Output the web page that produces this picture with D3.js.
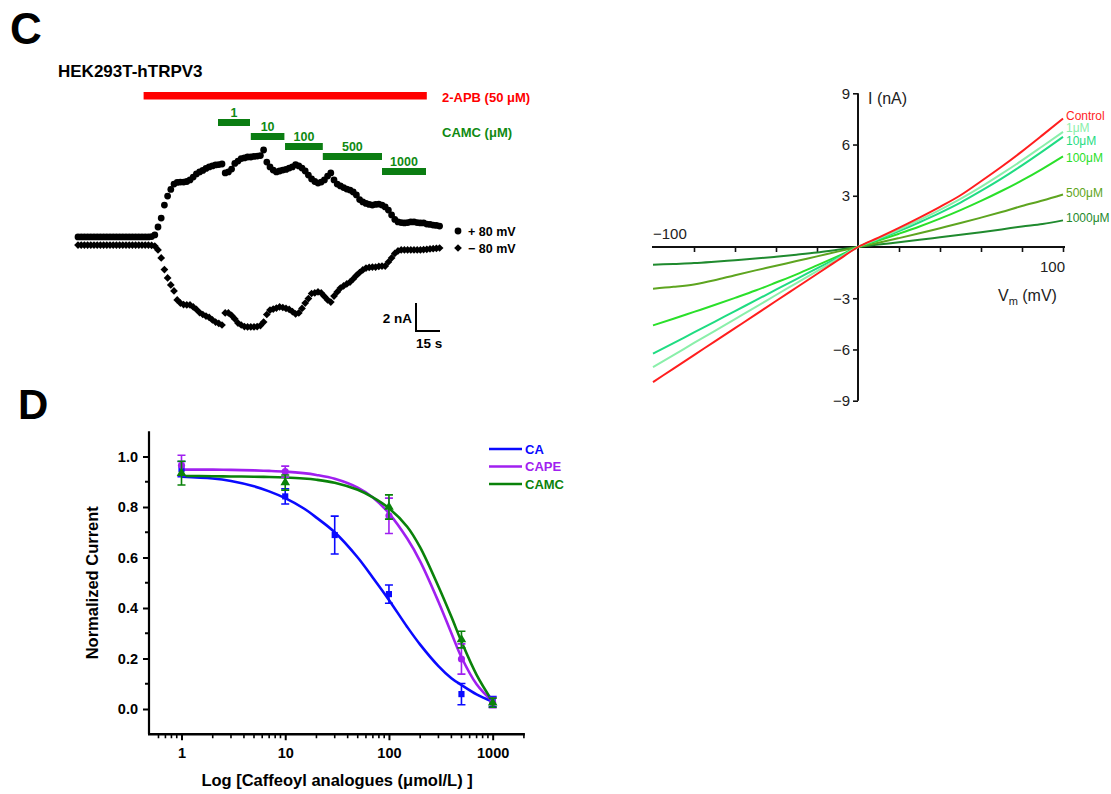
<!DOCTYPE html>
<html><head><meta charset="utf-8">
<script src="https://cdn.jsdelivr.net/npm/d3@7"></script>
<style>
body{margin:0;background:#fff}
svg{display:block}
text{font-family:"Liberation Sans",Arial,Helvetica,sans-serif}
</style>
</head><body>
<svg id="chart" width="1111" height="794"></svg>
<script>
// ---------------- DATA ----------------
// Panel C: time course (sample every 2 s), current in nA
const sampleInterval = 2;
const plus80 = [0.29,0.29,0.29,0.29,0.29,0.29,0.29,0.29,0.29,0.29,0.29,0.29,0.29,0.29,0.29,0.29,0.29,0.29,0.29,0.29,0.29,0.29,0.29,
 0.32,0.43,1.00,1.64,2.57,3.21,3.68,4.07,4.18,4.21,4.21,4.25,4.36,4.57,4.79,4.93,5.04,5.18,5.29,5.36,5.43,5.46,5.50,
 4.86,4.93,5.14,5.54,5.71,5.89,5.93,6.00,6.00,6.04,6.07,6.10,6.50,5.64,5.29,5.07,4.93,5.00,5.07,5.11,5.21,5.29,5.46,
 5.36,5.21,5.00,4.71,4.43,4.25,4.14,4.21,4.36,4.64,4.86,4.36,4.07,3.93,3.82,3.71,3.64,3.50,3.29,2.96,2.79,2.68,2.61,
 2.57,2.61,2.64,2.57,2.43,2.21,1.86,1.54,1.36,1.32,1.29,1.32,1.36,1.36,1.32,1.29,1.29,1.21,1.18,1.14,1.11,1.07];
const minus80 = [-0.29,-0.29,-0.29,-0.29,-0.29,-0.29,-0.29,-0.29,-0.29,-0.29,-0.29,-0.29,-0.29,-0.29,-0.29,-0.29,-0.29,-0.29,-0.29,-0.29,-0.29,-0.29,-0.29,
 -0.31,-0.36,-0.64,-1.21,-2.04,-2.64,-3.14,-3.57,-4.21,-4.43,-4.54,-4.57,-4.57,-4.71,-4.89,-5.11,-5.25,-5.36,-5.46,-5.64,-5.79,-5.89,-6.00,
 -5.14,-5.14,-5.32,-5.57,-5.86,-6.00,-6.11,-6.14,-6.14,-6.14,-6.11,-6.04,-5.79,-5.25,-4.93,-4.86,-4.79,-4.71,-4.75,-4.82,-4.89,-5.04,-5.21,
 -5.14,-4.82,-4.43,-4.11,-3.75,-3.71,-3.64,-3.71,-3.96,-4.21,-4.36,-3.93,-3.64,-3.36,-3.21,-3.07,-2.93,-2.71,-2.46,-2.25,-2.07,-1.93,-1.89,
 -1.86,-1.86,-1.82,-1.79,-1.79,-1.50,-1.21,-0.89,-0.71,-0.64,-0.64,-0.64,-0.64,-0.64,-0.64,-0.64,-0.61,-0.59,-0.57,-0.55,-0.52,-0.50];
const apbWindow = [41, 218];          // s
const camcLabels = ["1","10","100","500","1000"];
const camcStart = [87.5,108,129.4,153,190];
const camcEnd   = [107.5,129,153,190,217.5];

// Panel C right: I-V curves
const ivVoltages = [-100,-90,-80,-70,-60,-50,-40,-30,-20,-10,0,10,20,30,40,50,60,70,80,90,100];
const ivNames = ["Control","1μM","10μM","100μM","500μM","1000μM"];
const ivControl = [-7.91,-7.12,-6.33,-5.54,-4.75,-3.96,-3.16,-2.37,-1.58,-0.79,0,0.55,1.12,1.72,2.35,3.03,3.85,4.70,5.60,6.55,7.52];
const iv1    = [-7.03,-6.33,-5.62,-4.92,-4.22,-3.52,-2.81,-2.11,-1.41,-0.70,0,0.50,1.02,1.58,2.18,2.82,3.52,4.28,5.07,5.90,6.74];
const iv10   = [-6.25,-5.63,-5.00,-4.38,-3.75,-3.13,-2.50,-1.88,-1.25,-0.63,0,0.45,0.93,1.45,2.00,2.60,3.28,4.00,4.78,5.60,6.45];
const iv100  = [-4.59,-4.20,-3.80,-3.40,-2.98,-2.55,-2.08,-1.60,-1.08,-0.55,0,0.38,0.78,1.20,1.66,2.16,2.70,3.28,3.90,4.58,5.31];
const iv500  = [-2.44,-2.33,-2.19,-1.95,-1.65,-1.37,-1.10,-0.82,-0.55,-0.27,0,0.25,0.52,0.80,1.10,1.40,1.72,2.05,2.40,2.72,3.07];
const iv1000 = [-1.04,-0.99,-0.94,-0.86,-0.77,-0.68,-0.57,-0.45,-0.32,-0.16,0,0.14,0.28,0.42,0.57,0.72,0.87,1.03,1.20,1.35,1.56];
const ivYTicks = [-9,-6,-3,3,6,9];
const ivXTicks = [-80,-60,-40,-20,20,40,60,80,100];

// Panel D: concentration-response
const doseNames = ["CA","CAPE","CAMC"];
const caConc = [1,10,30,100,500,1000];
const caMean = [0.95,0.842,0.689,0.455,0.059,0.029];
const caSem  = [0.03,0.03,0.075,0.036,0.042,0.02];
const capeConc = [1,10,100,500,1000];
const capeMean = [0.965,0.94,0.765,0.198,0.025];
const capeSem  = [0.04,0.022,0.07,0.06,0.02];
const camcConc = [1,10,100,500,1000];
const camcMean = [0.934,0.897,0.80,0.275,0.025];
const camcSem  = [0.047,0.03,0.048,0.033,0.018];
const fitConc = [1,2,3,5,7,10,15,20,30,50,70,100,150,200,300,400,500,700,1000];
const caFit   = [0.920,0.913,0.903,0.882,0.862,0.835,0.795,0.758,0.700,0.600,0.520,0.432,0.325,0.255,0.170,0.122,0.095,0.058,0.029];
const capeFit = [0.948,0.948,0.947,0.945,0.943,0.940,0.934,0.927,0.912,0.877,0.838,0.775,0.675,0.585,0.425,0.300,0.205,0.098,0.029];
const camcFit = [0.923,0.922,0.921,0.920,0.919,0.917,0.913,0.908,0.896,0.868,0.838,0.795,0.722,0.640,0.485,0.365,0.267,0.135,0.029];
const doseYTicks = [0,0.2,0.4,0.6,0.8,1.0];
const doseYMinor = [0.1,0.3,0.5,0.7,0.9];
const doseXTicks = [1,10,100,1000];
const doseXMinor = [0.6,0.7,0.8,0.9,2,3,4,5,6,7,8,9,20,30,40,50,60,70,80,90,200,300,400,500,600,700,800,900,2000];

// ---------------- DRAW ----------------
const svg = d3.select("#chart");
const BLACK = "#000";

// Panel labels
svg.append("text").attr("x",10).attr("y",44).attr("font-size",44).attr("font-weight","bold").text("C");
svg.append("text").attr("x",18).attr("y",419).attr("font-size",42).attr("font-weight","bold").text("D");

// ===== Panel C time course =====
const tx = d3.scaleLinear().domain([0,100]).range([78,238]);   // 1.6 px/s
const ty = d3.scaleLinear().domain([0,2]).range([241,213]);    // 14 px/nA
const gC = svg.append("g");
gC.append("text").attr("x",58).attr("y",77).attr("font-size",17).attr("font-weight","bold").text("HEK293T-hTRPV3");

// 2-APB bar
gC.append("rect").attr("x",tx(apbWindow[0])).attr("y",92).attr("width",tx(apbWindow[1])-tx(apbWindow[0])).attr("height",7.5).attr("fill","#ff0000");
gC.append("text").attr("x",442).attr("y",101.5).attr("font-size",13).attr("font-weight","bold").attr("fill","#ff0000").text("2-APB (50 μM)");

// CAMC bars
const barTops = [119,133,143,153,168];
camcLabels.forEach((lab,i)=>{
  const x0 = tx(camcStart[i]), x1 = tx(camcEnd[i]);
  gC.append("rect").attr("x",x0).attr("y",barTops[i]).attr("width",x1-x0).attr("height",7).attr("fill","#0b7d12");
  gC.append("text").attr("x",(x0+x1)/2).attr("y",barTops[i]-2).attr("text-anchor","middle")
    .attr("font-size",12.5).attr("font-weight","bold").attr("fill","#0f8a12").text(lab);
});
gC.append("text").attr("x",442).attr("y",137).attr("font-size",13).attr("font-weight","bold").attr("fill","#0f8a12").text("CAMC (μM)");

// dots
const circ = d3.symbol().type(d3.symbolCircle).size(36);
const dia = d3.symbol().type(d3.symbolSquare).size(30);
gC.selectAll(".p80").data(plus80).join("path").attr("class","p80")
  .attr("d",circ).attr("transform",(d,i)=>`translate(${tx(i*sampleInterval)},${ty(d)})`).attr("fill",BLACK);
gC.selectAll(".m80").data(minus80).join("path").attr("class","m80")
  .attr("d",dia).attr("transform",(d,i)=>`translate(${tx(i*sampleInterval)},${ty(d)}) rotate(45)`).attr("fill",BLACK);

// legend
gC.append("path").attr("d",circ).attr("transform","translate(458,231)").attr("fill",BLACK);
gC.append("path").attr("d",dia).attr("transform","translate(458,248) rotate(45)").attr("fill",BLACK);
gC.append("text").attr("x",468).attr("y",235.5).attr("font-size",12.5).attr("font-weight","bold").text("+ 80 mV");
gC.append("text").attr("x",468).attr("y",252.5).attr("font-size",12.5).attr("font-weight","bold").text("− 80 mV");

// scale bar 2 nA / 15 s
const sbx = 416, sby = 331;
const sbH = ty(0)-ty(2), sbW = tx(15)-tx(0);
gC.append("path").attr("d",`M${sbx},${sby-sbH}V${sby}H${sbx+sbW}`).attr("fill","none").attr("stroke",BLACK).attr("stroke-width",2);
gC.append("text").attr("x",sbx-4).attr("y",323).attr("text-anchor","end").attr("font-size",13.5).attr("font-weight","bold").text("2 nA");
gC.append("text").attr("x",sbx).attr("y",348).attr("font-size",13.5).attr("font-weight","bold").text("15 s");

// ===== Panel C I-V =====
const vx = d3.scaleLinear().domain([-100,100]).range([653,1063]);
const iy = d3.scaleLinear().domain([-9,9]).range([400.7,93.3]);
const gIV = svg.append("g");
const ivAxisColor = "#111";
// x axis
const xAx = gIV.append("g").attr("transform",`translate(0,${iy(0)})`)
  .call(d3.axisBottom(vx).tickValues(ivXTicks).tickSize(5).tickFormat(""));
xAx.select(".domain").attr("d",`M${vx(-100)-1},0H${vx(100)+2}`).attr("stroke",ivAxisColor).attr("stroke-width",2);
xAx.selectAll(".tick line").attr("stroke",ivAxisColor).attr("stroke-width",1.6);
// y axis
const yAx = gIV.append("g").attr("transform",`translate(${vx(0)},0)`)
  .call(d3.axisLeft(iy).tickValues(ivYTicks).tickSize(5).tickPadding(3).tickFormat(d=>d<0?"−"+Math.abs(d):d));
yAx.select(".domain").attr("d",`M0,${iy(9)}V${iy(-9)}`).attr("stroke",ivAxisColor).attr("stroke-width",2);
yAx.selectAll(".tick line").attr("stroke",ivAxisColor).attr("stroke-width",1.6);
yAx.selectAll(".tick text").attr("font-size",15).attr("fill","#222").attr("font-family","Liberation Sans, Arial, sans-serif");
gIV.append("text").attr("x",vx(-100)).attr("y",iy(0)-8).attr("font-size",15).attr("fill","#222").text("−100");
gIV.append("text").attr("x",vx(100)+2).attr("y",iy(0)+25).attr("text-anchor","end").attr("font-size",15).attr("fill","#222").text("100");
gIV.append("text").attr("x",868).attr("y",104).attr("font-size",16).attr("fill","#222").text("I (nA)");
const vl = gIV.append("text").attr("x",998).attr("y",301).attr("font-size",16).attr("fill","#222");
vl.append("tspan").text("V");
vl.append("tspan").attr("font-size",11).attr("dy",4).text("m");
vl.append("tspan").attr("dy",-4).text(" (mV)");

const ivData = [ivControl, iv1, iv10, iv100, iv500, iv1000];
const ivColors = ["#ff1e1e","#8aefaa","#1fdc82","#2ae02a","#5ea520","#1f8a2e"];
const ivLabelDy = [-2.5,-3.5,4.5,1.5,-2,-2];
const ivLine = d3.line().x((d,i)=>vx(ivVoltages[i])).y(d=>iy(d)).curve(d3.curveMonotoneX);
for (let k = ivData.length-1; k >= 0; k--) {
  gIV.append("path").attr("d",ivLine(ivData[k])).attr("fill","none").attr("stroke",ivColors[k]).attr("stroke-width",2);
}
ivNames.forEach((n,k)=>{
  const last = ivData[k][ivData[k].length-1];
  gIV.append("text").attr("x",vx(100)+3).attr("y",iy(last)+ivLabelDy[k]+4).attr("font-size",12)
    .attr("fill",ivColors[k]).text(n);
});

// ===== Panel D =====
const cx = d3.scaleLog().domain([0.5,2000]).range([150.27,523.9]);
const ny = d3.scaleLinear().domain([-0.1,1.1]).range([734.25,431.25]);
const gD = svg.append("g");
const axX = 149;
// y axis
const dy = gD.append("g").attr("transform",`translate(${axX},0)`)
  .call(d3.axisLeft(ny).tickValues(doseYTicks).tickSize(6).tickPadding(5).tickFormat(d3.format(".1f")));
dy.select(".domain").attr("d",`M0,${ny(1.1)}V${ny(-0.1)}`).attr("stroke",BLACK).attr("stroke-width",2.2);
dy.selectAll(".tick line").attr("stroke",BLACK).attr("stroke-width",2);
dy.selectAll(".tick text").attr("font-size",14.5).attr("font-weight","bold").attr("fill",BLACK).attr("font-family","Liberation Sans, Arial, sans-serif");
dy.selectAll(".minor").data(doseYMinor).join("line").attr("class","minor")
  .attr("x1",0).attr("x2",-4).attr("y1",d=>ny(d)).attr("y2",d=>ny(d)).attr("stroke",BLACK).attr("stroke-width",2);
// x axis
const dxA = gD.append("g").attr("transform",`translate(0,${ny(-0.1)})`)
  .call(d3.axisBottom(cx).tickValues(doseXTicks).tickSize(6).tickPadding(7).tickFormat(d3.format("d")));
dxA.select(".domain").attr("d",`M${axX-1},0H${cx(2000)+1}`).attr("stroke",BLACK).attr("stroke-width",2.4);
dxA.selectAll(".tick line").attr("stroke",BLACK).attr("stroke-width",2);
dxA.selectAll(".tick text").attr("font-size",14.5).attr("font-weight","bold").attr("fill",BLACK).attr("font-family","Liberation Sans, Arial, sans-serif");
dxA.selectAll(".minor").data(doseXMinor).join("line").attr("class","minor")
  .attr("x1",d=>cx(d)).attr("x2",d=>cx(d)).attr("y1",0).attr("y2",4).attr("stroke",BLACK).attr("stroke-width",1.6);

gD.append("text").attr("transform",`translate(98,${(ny(1.1)+ny(-0.1))/2}) rotate(-90)`).attr("text-anchor","middle")
  .attr("font-size",16.5).attr("font-weight","bold").text("Normalized Current");
gD.append("text").attr("x",(cx(0.5)+cx(2000))/2).attr("y",786).attr("text-anchor","middle")
  .attr("font-size",16.5).attr("font-weight","bold").text("Log [Caffeoyl analogues (μmol/L) ]");

const doseColors = ["#0a0aff","#a020f0","#0a820a"];
const doseSets = [
  {conc:caConc, mean:caMean, sem:caSem, fit:caFit, sym:d3.symbolSquare, size:38},
  {conc:capeConc, mean:capeMean, sem:capeSem, fit:capeFit, sym:d3.symbolCircle, size:40},
  {conc:camcConc, mean:camcMean, sem:camcSem, fit:camcFit, sym:d3.symbolTriangle, size:40}
];
const fitLine = d3.line().x((d,i)=>cx(fitConc[i])).y(d=>ny(d)).curve(d3.curveCatmullRom.alpha(0.5));
doseSets.forEach((s,k)=>{
  gD.append("path").attr("d",fitLine(s.fit)).attr("fill","none").attr("stroke",doseColors[k]).attr("stroke-width",2.6);
});
doseSets.forEach((s,k)=>{
  const g = gD.append("g");
  s.conc.forEach((c,i)=>{
    const x = cx(c), yt = ny(s.mean[i]+s.sem[i]), yb = ny(s.mean[i]-s.sem[i]);
    g.append("path").attr("d",`M${x},${yt}V${yb}M${x-4},${yt}H${x+4}M${x-4},${yb}H${x+4}`)
      .attr("stroke",doseColors[k]).attr("stroke-width",1.6).attr("fill","none");
    g.append("path").attr("d",d3.symbol().type(s.sym).size(s.size)()).attr("transform",`translate(${x},${ny(s.mean[i])})`)
      .attr("fill",doseColors[k]);
  });
});
// legend
const legY = [449,466.5,484];
doseNames.forEach((n,k)=>{
  gD.append("line").attr("x1",489).attr("x2",522).attr("y1",legY[k]).attr("y2",legY[k]).attr("stroke",doseColors[k]).attr("stroke-width",2.6);
  gD.append("text").attr("x",525).attr("y",legY[k]+4.5).attr("font-size",13).attr("font-weight","bold").attr("fill",doseColors[k]).text(n);
});
</script>
</body></html>
